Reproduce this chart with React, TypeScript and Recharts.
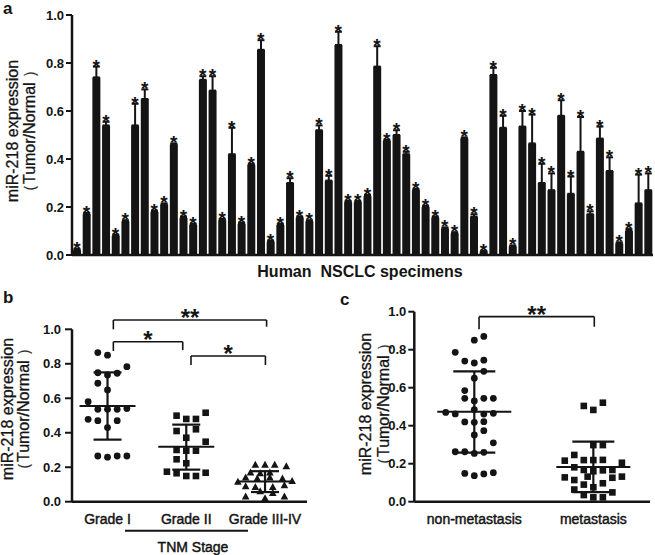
import React from 'react';
import {
  ComposedChart, Bar, ErrorBar, Scatter, XAxis, YAxis, ReferenceLine, Label,
} from 'recharts';

const FONT = '"Liberation Sans", Arial, Helvetica, sans-serif';
const INK = '#141414';

// ---- panel a: miR-218 in 60 NSCLC specimens (tumor / normal) ----
const specimenValues = [
  0.02, 0.17, 0.74, 0.54, 0.08, 0.14, 0.54, 0.65, 0.18, 0.21,
  0.46, 0.155, 0.125, 0.73, 0.685, 0.145, 0.42, 0.13, 0.375, 0.855,
  0.055, 0.125, 0.3, 0.155, 0.14, 0.52, 0.31, 0.875, 0.22, 0.22,
  0.245, 0.785, 0.475, 0.5, 0.42, 0.27, 0.2, 0.155, 0.11, 0.09,
  0.485, 0.16, 0.015, 0.75, 0.53, 0.035, 0.535, 0.465, 0.3, 0.27,
  0.58, 0.255, 0.43, 0.17, 0.485, 0.35, 0.048, 0.1, 0.215, 0.27,
];
const specimenErrors = [
  0.005, 0.005, 0.045, 0.015, 0.005, 0.005, 0.09, 0.04, 0.005, 0.005,
  0.005, 0.005, 0.005, 0.015, 0.06, 0.005, 0.11, 0.005, 0.005, 0.04,
  0.005, 0.005, 0.02, 0.005, 0.005, 0.02, 0.02, 0.055, 0.005, 0.005,
  0.005, 0.085, 0.005, 0.02, 0.01, 0.005, 0.005, 0.005, 0.005, 0.005,
  0.005, 0.01, 0.003, 0.03, 0.05, 0.005, 0.065, 0.12, 0.08, 0.07,
  0.065, 0.072, 0.145, 0.012, 0.05, 0.057, 0.005, 0.008, 0.12, 0.07,
];

const yTicks = [0, 0.2, 0.4, 0.6, 0.8, 1.0];

// ---- panel b: by TNM stage, [value, jitter column] ----
const gradeNames = ['Grade I', 'Grade II', 'Grade III-IV'];
const gradeI = [
  [0.865, -1], [0.85, 0], [0.783, 2], [0.748, -1], [0.735, 0], [0.745, 1],
  [0.687, -1], [0.648, 0], [0.58, -2], [0.536, -1], [0.536, 0], [0.536, 1],
  [0.54, 2], [0.478, -2], [0.47, -1], [0.47, 1], [0.43, 0], [0.265, -1],
  [0.258, 0], [0.265, 1], [0.265, 2],
];
const gradeII = [
  [0.516, 2], [0.499, -1], [0.48, 0], [0.48, 1], [0.41, -1], [0.42, 1],
  [0.371, 0], [0.348, 2], [0.3, -1], [0.296, 0], [0.296, 1], [0.246, -1],
  [0.223, 0], [0.174, -2], [0.165, -1], [0.149, 0], [0.149, 1], [0.168, 2],
];
const gradeIII = [
  [0.215, -1], [0.215, 0], [0.215, 1], [0.205, 2.2], [0.17, -1.5], [0.165, -0.5],
  [0.17, 0.5], [0.14, -2], [0.135, -0.8], [0.14, 0.5], [0.135, 1.8], [0.115, -2.8],
  [0.12, 2.8], [0.09, -2], [0.085, -1], [0.085, 0.8], [0.095, 2], [0.06, -0.5],
  [0.05, 0.8], [0.03, -2], [0.02, 0], [0.03, 2],
];
const gradeMean = [0.555, 0.319, 0.117];
const gradeLow = [0.36, 0.186, 0.056];
const gradeHigh = [0.75, 0.447, 0.177];

// ---- panel c: by metastasis ----
const metNames = ['non-metastasis', 'metastasis'];
const nonMet = [
  [0.87, 1], [0.85, 0], [0.786, -2], [0.74, -1], [0.73, 0], [0.745, 1],
  [0.686, 1], [0.65, 0], [0.585, -1], [0.544, -1], [0.53, 0], [0.544, 1],
  [0.544, 2], [0.47, -3], [0.462, -2], [0.485, 0], [0.461, 1], [0.465, 2],
  [0.42, -1], [0.418, 0], [0.421, 1], [0.351, 0], [0.374, 1], [0.31, 2],
  [0.263, -2], [0.263, -1], [0.254, 0], [0.26, 1], [0.149, -1], [0.137, 0],
  [0.146, 1], [0.153, 2],
];
const met = [
  [0.504, -1], [0.483, 0], [0.521, 1], [0.298, 0], [0.298, 1], [0.246, -2],
  [0.219, -1], [0.219, 0], [0.22, 1], [0.216, -3], [0.205, 3], [0.181, -2],
  [0.167, -1], [0.16, 0], [0.165, 1], [0.167, 2], [0.132, -0.6], [0.128, -3],
  [0.126, 2], [0.132, 3], [0.114, -2], [0.097, 1], [0.09, -1], [0.076, 0],
  [0.064, -2], [0.049, 2], [0.035, -1], [0.023, 0], [0.023, 1],
];
const metMean = [0.473, 0.182];
const metLow = [0.258, 0.05];
const metHigh = [0.686, 0.316];

const specimenRows = specimenValues.map((v, i) => ({
  id: i + 1,
  value: v,
  err: [0, specimenErrors[i]],
  star: v + specimenErrors[i],
}));

const toPoints = (pts: number[][], group: number, step: number) =>
  pts.map(([v, col]) => ({ x: group + col * step, y: v }));

const toSummary = (mean: number[], low: number[], high: number[]) =>
  mean.map((m, i) => ({ x: i + 1, mean: m, sd: [m - low[i], high[i] - m] }));

const axisLine = { stroke: INK, strokeWidth: 2.5 };
const tickLine = { stroke: INK, strokeWidth: 2 };
const tickFont = { fill: INK, fontSize: 13, fontWeight: 'bold', fontFamily: FONT };
// category / caption text: plain Arial, slightly heavier
const capFont = { fill: INK, fontSize: 14, fontFamily: FONT, stroke: INK, strokeWidth: 0.45 };
const fmt = (v: number) => v.toFixed(1);

// shapes
const StarMark = (p: any) => (
  <text x={p.cx} y={p.cy + 6} textAnchor="middle" fontSize={19} fontWeight="bold" fontFamily={FONT} fill={INK}>*</text>
);
const DotMark = (p: any) => <circle cx={p.cx} cy={p.cy} r={3.4} fill={INK} />;
const SquareMark = (p: any) => <rect x={p.cx - 3.3} y={p.cy - 3.3} width={6.6} height={6.6} fill={INK} />;
const TriMark = (p: any) => (
  <polygon points={`${p.cx},${p.cy - 4} ${p.cx + 3.8},${p.cy + 3} ${p.cx - 3.8},${p.cy + 3}`} fill={INK} />
);
const meanMark = (w: number) => (p: any) => (
  <line x1={p.cx - w / 2} x2={p.cx + w / 2} y1={p.cy} y2={p.cy} stroke={INK} strokeWidth={2} />
);

const axisTitle = (b1: number, b2: number, cy: number) => () => (
  <g fontFamily={FONT} fontSize={16} fill={INK} stroke={INK} strokeWidth={0.3}>
    <text transform={`translate(${b1},${cy}) rotate(-90)`} textAnchor="middle">miR-218 expression</text>
    <text transform={`translate(${b2},${cy}) rotate(-90)`} textAnchor="middle">（Tumor/Normal ）</text>
  </g>
);

const panelLetter = (t: string, x: number, y: number) => (
  <text x={x} y={y} fontFamily={FONT} fontSize={17} fontWeight="bold" fill={INK}>{t}</text>
);

const starLabel = (t: string) => (props: any) => {
  const vb = props.viewBox;
  return (
    <text x={vb.x + vb.width / 2} y={vb.y + 6} textAnchor="middle" fontSize={24} fontWeight="bold" fontFamily={FONT} fill={INK}>{t}</text>
  );
};

const catTick = (names: string[], dy: number) => (p: any) => (
  <text x={p.x} y={p.y + dy} textAnchor="middle" {...capFont}>{names[p.payload.value - 1]}</text>
);

// bracket: [left x, right x, top y, left foot, right foot, label]
const Bracket = (l: number, r: number, top: number, lf: number, rf: number, t: string, k: string) => [
  <ReferenceLine key={k + 'l'} segment={[{ x: l, y: lf }, { x: l, y: top }]} stroke={INK} strokeWidth={1.6} ifOverflow="visible" />,
  <ReferenceLine key={k + 'h'} segment={[{ x: l, y: top }, { x: r, y: top }]} stroke={INK} strokeWidth={1.6} ifOverflow="visible" label={starLabel(t)} />,
  <ReferenceLine key={k + 'r'} segment={[{ x: r, y: top }, { x: r, y: rf }]} stroke={INK} strokeWidth={1.6} ifOverflow="visible" />,
];

const SpecimenPanel = () => (
  <ComposedChart width={655} height={285} data={specimenRows} margin={{ top: 15, right: 2, bottom: 0, left: 0 }}>
    <XAxis dataKey="id" type="category" tick={false} tickLine={false} height={30} axisLine={axisLine}>
      <Label content={() => (
        <g>
          <text x={360} y={277} textAnchor="middle" fontFamily={FONT} fontSize={16} fontWeight="bold" fill={INK} style={{ whiteSpace: 'pre' }}>Human  NSCLC specimens</text>
          {panelLetter('a', 3, 14)}
        </g>
      )} />
    </XAxis>
    <YAxis width={72} domain={[0, 1]} ticks={yTicks} tickFormatter={fmt} axisLine={axisLine} tickLine={tickLine} tickSize={6} tickMargin={2} tick={tickFont} interval={0}>
      <Label content={axisTitle(17.5, 35, 131)} />
    </YAxis>
    <Bar dataKey="value" fill={INK} barSize={8} isAnimationActive={false}>
      <ErrorBar dataKey="err" direction="y" width={3.5} strokeWidth={2} stroke={INK} />
    </Bar>
    <Scatter dataKey="star" shape={StarMark} isAnimationActive={false} />
  </ComposedChart>
);

const StagePanel = () => (
  <ComposedChart width={320} height={275} margin={{ top: 49.3, right: 13, bottom: 0, left: 0 }}>
    <XAxis type="number" dataKey="x" domain={[0.549, 3.533]} ticks={[1, 2, 3]} interval={0} height={53.3} axisLine={axisLine} tickLine={false} tickSize={0} tickMargin={0} tick={catTick(gradeNames, 22)} allowDataOverflow>
      <Label content={() => (
        <g>
          <line x1={125} x2={248} y1={250.7} y2={250.7} stroke={INK} strokeWidth={2} />
          <text x={193} y={271.5} textAnchor="middle" {...capFont}>TNM Stage</text>
          {panelLetter('b', 3, 23.3)}
        </g>
      )} />
    </XAxis>
    <YAxis type="number" width={72} domain={[0, 1]} ticks={yTicks} tickFormatter={fmt} axisLine={axisLine} tickLine={tickLine} tickSize={7} tickMargin={4} tick={tickFont} interval={0}>
      <Label content={axisTitle(13, 29, 129)} />
    </YAxis>
    <Scatter data={toPoints(gradeI, 1, 0.123)} dataKey="y" shape={DotMark} isAnimationActive={false} />
    <Scatter data={toPoints(gradeII, 2, 0.123)} dataKey="y" shape={SquareMark} isAnimationActive={false} />
    <Scatter data={toPoints(gradeIII, 3, 0.123)} dataKey="y" shape={TriMark} isAnimationActive={false} />
    <Scatter data={toSummary(gradeMean, gradeLow, gradeHigh)} dataKey="mean" shape={meanMark(56)} isAnimationActive={false}>
      <ErrorBar dataKey="sd" direction="y" width={14} strokeWidth={2.2} stroke={INK} />
    </Scatter>
    {Bracket(1.074, 3.02, 1.054, 1.0, 1.015, '**', 'b1')}
    {Bracket(1.074, 1.955, 0.928, 0.874, 0.88, '*', 'b2')}
    {Bracket(2.06, 3.005, 0.845, 0.793, 0.793, '*', 'b3')}
  </ComposedChart>
);

const MetastasisPanel = () => (
  <ComposedChart width={330} height={275} margin={{ top: 31.7, right: 5, bottom: 0, left: 0 }}>
    <XAxis type="number" dataKey="x" domain={[0.496, 2.476]} ticks={[1, 2]} interval={0} height={53.3} axisLine={axisLine} tickLine={false} tickSize={0} tickMargin={0} tick={catTick(metNames, 22.5)} allowDataOverflow>
      <Label content={() => panelLetter('c', 15, 25)} />
    </XAxis>
    <YAxis type="number" width={89.3} domain={[0, 1]} ticks={yTicks} tickFormatter={fmt} axisLine={axisLine} tickLine={tickLine} tickSize={6} tickMargin={2} tick={tickFont} interval={0}>
      <Label content={axisTitle(45.5, 63.5, 124)} />
    </YAxis>
    <Scatter data={toPoints(nonMet, 1, 0.08)} dataKey="y" shape={DotMark} isAnimationActive={false} />
    <Scatter data={toPoints(met, 2, 0.08)} dataKey="y" shape={SquareMark} isAnimationActive={false} />
    <Scatter data={toSummary(metMean, metLow, metHigh)} dataKey="mean" shape={meanMark(74)} isAnimationActive={false}>
      <ErrorBar dataKey="sd" direction="y" width={21} strokeWidth={2.2} stroke={INK} />
    </Scatter>
    {Bracket(1.04, 2.008, 0.974, 0.907, 0.921, '**', 'c1')}
  </ComposedChart>
);

export default function App() {
  return (
    <div style={{ position: 'absolute', left: 0, top: 0, width: 655, height: 555, background: '#fff', fontFamily: FONT }}>
      <div style={{ position: 'absolute', left: 0, top: 0 }}>
        <SpecimenPanel />
      </div>
      <div style={{ position: 'absolute', left: 0, top: 280 }}>
        <StagePanel />
      </div>
      <div style={{ position: 'absolute', left: 325, top: 280 }}>
        <MetastasisPanel />
      </div>
    </div>
  );
}
